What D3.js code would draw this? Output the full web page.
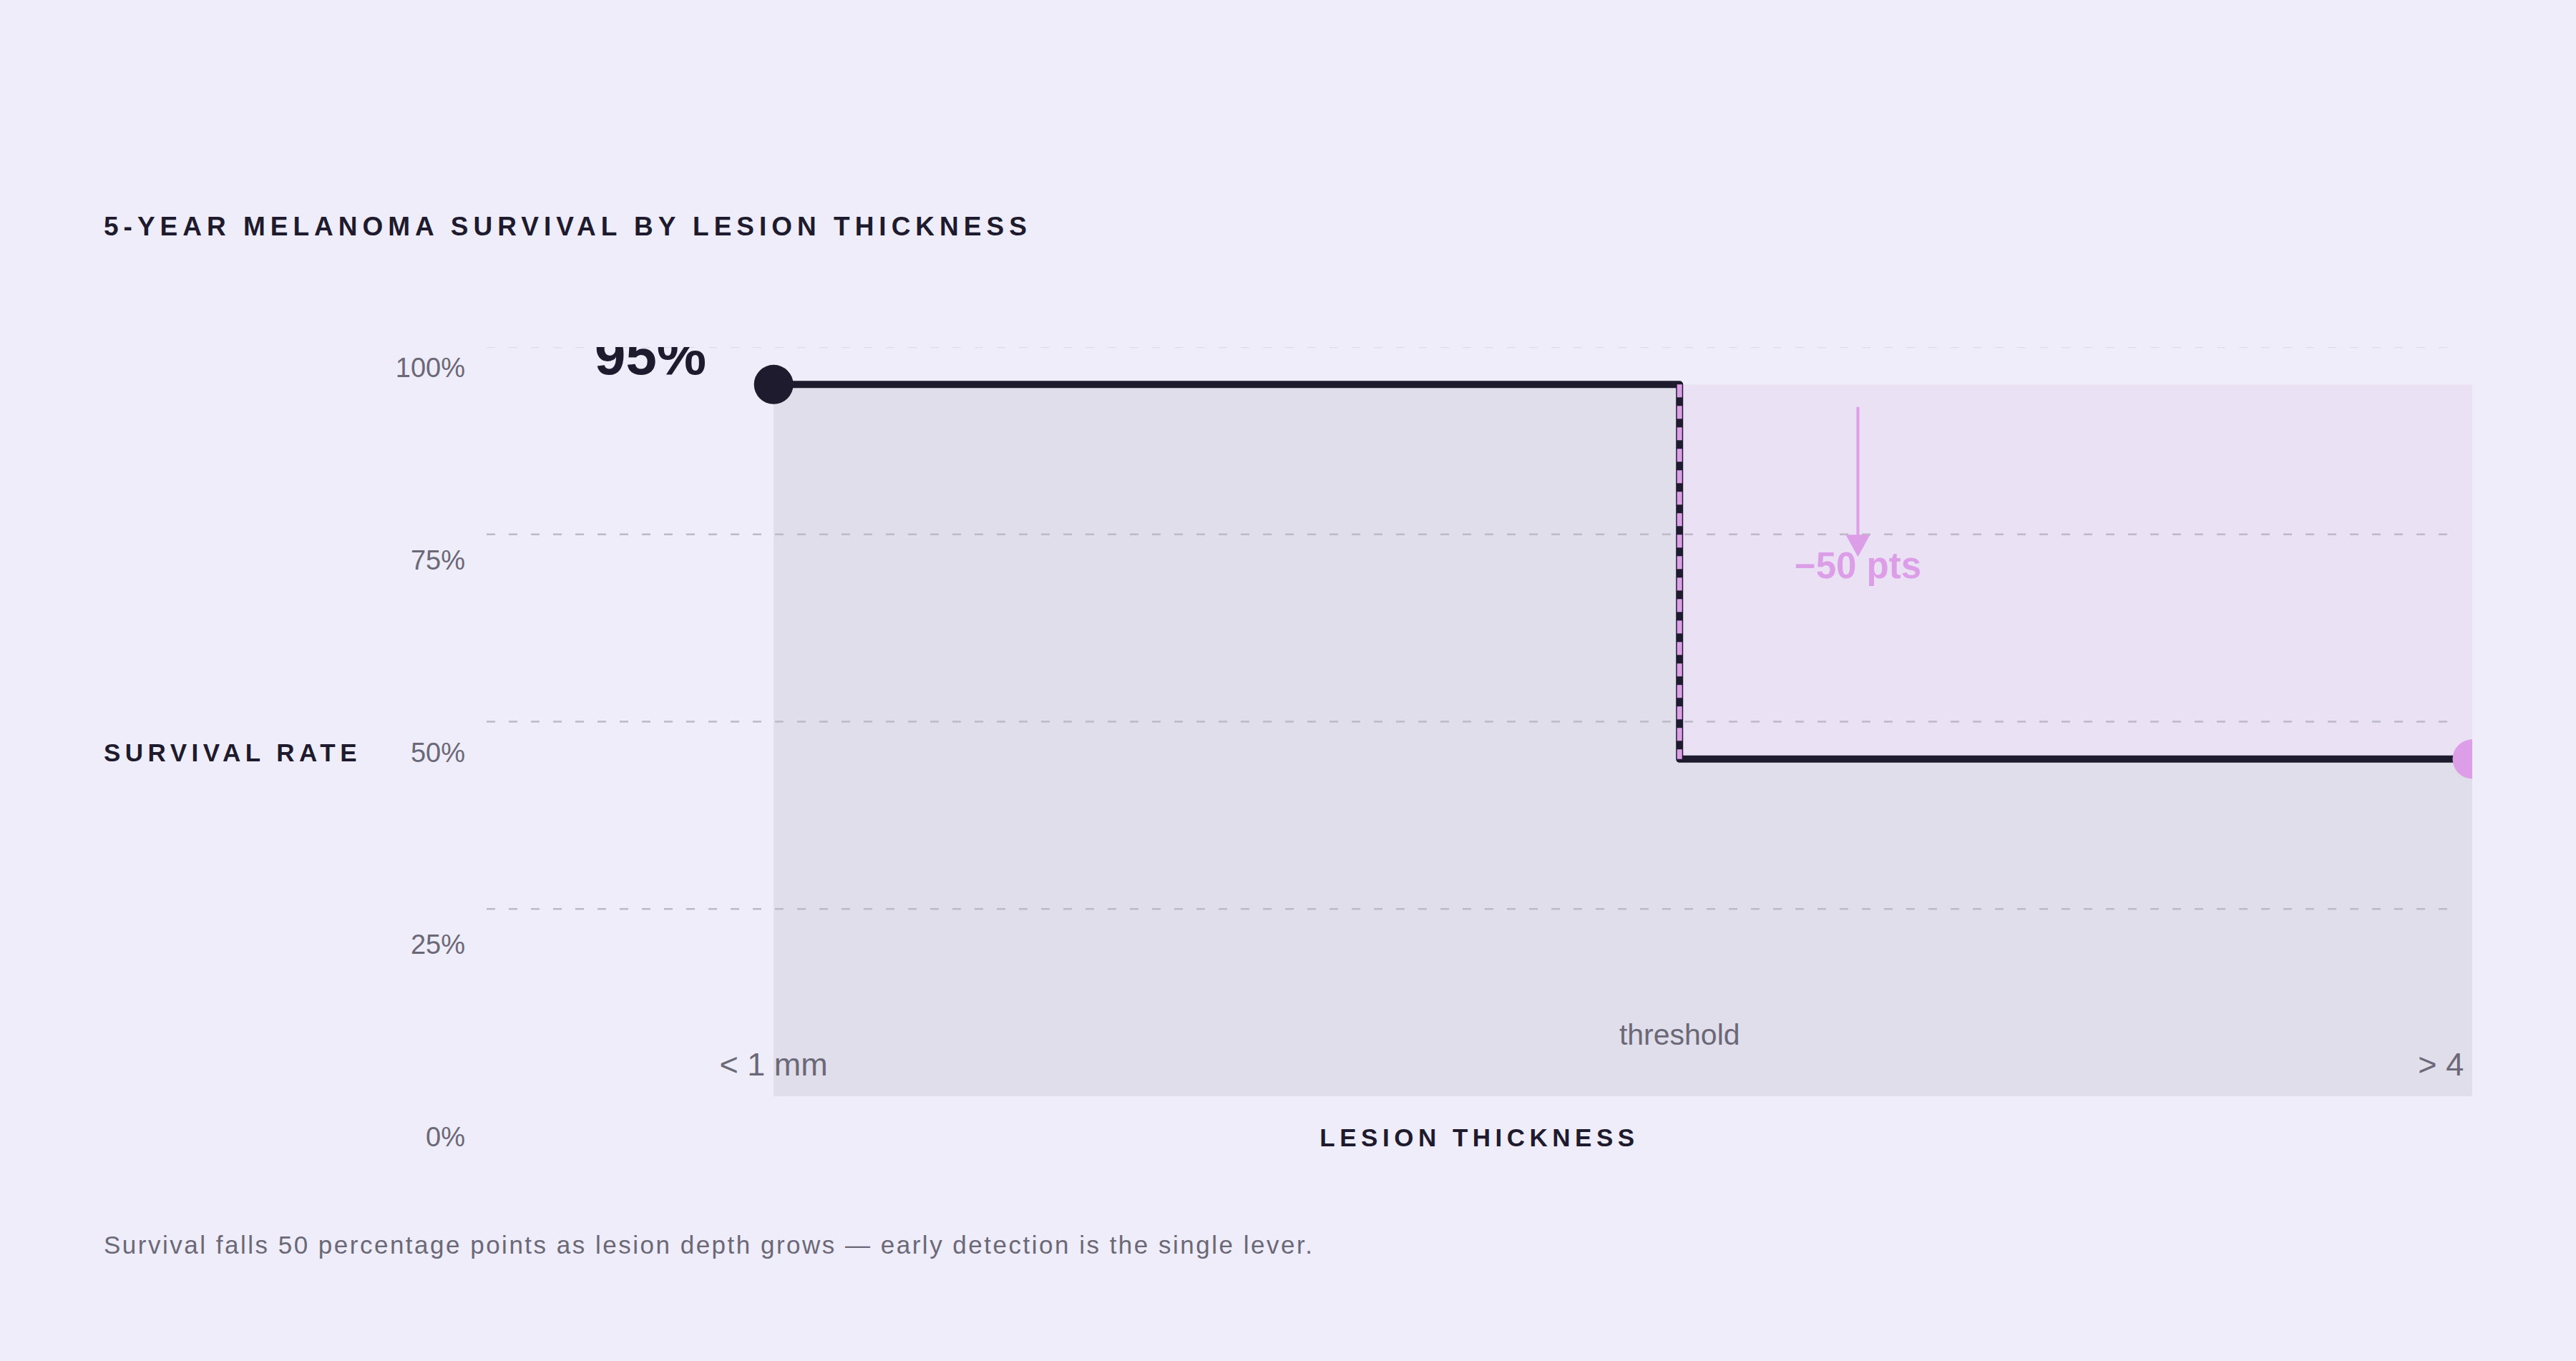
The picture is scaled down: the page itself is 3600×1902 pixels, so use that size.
<!DOCTYPE html>
<html>
<head>
<meta charset="utf-8">
<script src="https://cdn.jsdelivr.net/npm/d3@7"></script>
<style>
  body { margin: 0; background: #efedf9; }
  svg { display: block; font-family: "Liberation Sans", Arial, Helvetica, sans-serif; }
</style>
</head>
<body>
<div id="chart"></div>
<script>
// --- DATA ---
const stopLabels = ["< 1 mm", "> 4 mm"];
const stopMm = [1, 4];
const survival = [95, 45];
const thresholdMm = 2.6;
const yTicks = [0, 25, 50, 75, 100];
const arrowMm = 2.915;
const arrowFrom = 92;
const arrowTo = 72;

// --- LAYOUT ---
const W = 3600, H = 1902;
const plot = { left: 680, right: 3455, top: 485, bottom: 1532 };
const colors = {
  ink: "#1e1b2e",
  muted: "#6b6878",
  accent: "#dc9ee6",
  greyFill: "#e0deea",
  pinkFill: "#ebe1f5",
  grid: "#bdb9c8",
  gridTop: "#e0dcea"
};

const x = d3.scaleLinear().domain([0.493, 4]).range([plot.left, plot.right]);
const y = d3.scaleLinear().domain([0, 100]).range([plot.bottom, plot.top]);
// tick labels sit on their own slightly taller ladder
const yLabel = d3.scaleLinear().domain([0, 100]).range([1602, 527]);

const svg = d3.select("#chart").append("svg").attr("width", W).attr("height", H);
svg.append("rect").attr("width", W).attr("height", H).attr("fill", "#efedf9");

svg.append("defs").append("clipPath").attr("id", "plot-clip")
  .append("rect")
  .attr("x", plot.left).attr("y", plot.top)
  .attr("width", plot.right - plot.left).attr("height", plot.bottom - plot.top + 40);

const g = svg.append("g").attr("clip-path", "url(#plot-clip)");

// step series: first stop, drop at threshold, last stop
const steps = [
  { mm: stopMm[0], v: survival[0] },
  { mm: thresholdMm, v: survival[1] },
  { mm: stopMm[1], v: survival[1] }
];

// area under the curve
g.append("path").datum(steps)
  .attr("fill", colors.greyFill)
  .attr("d", d3.area().curve(d3.curveStepAfter)
    .x(d => x(d.mm)).y0(y(0)).y1(d => y(d.v)));

// lost survival block
g.append("rect")
  .attr("x", x(thresholdMm)).attr("y", y(survival[0]))
  .attr("width", x(stopMm[1]) - x(thresholdMm))
  .attr("height", y(survival[1]) - y(survival[0]))
  .attr("fill", colors.pinkFill);

// gridlines
g.selectAll(".grid").data(yTicks.filter(d => d > 0)).enter().append("line")
  .attr("x1", plot.left).attr("x2", plot.right - 18)
  .attr("y1", d => y(d)).attr("y2", d => y(d))
  .attr("stroke", d => d === 100 ? colors.gridTop : colors.grid)
  .attr("stroke-width", 2.5)
  .attr("stroke-dasharray", "12 19");

// step line
g.append("path").datum(steps)
  .attr("fill", "none").attr("stroke", colors.ink).attr("stroke-width", 10)
  .attr("stroke-linejoin", "round")
  .attr("d", d3.line().curve(d3.curveStepAfter).x(d => x(d.mm)).y(d => y(d.v)));

// threshold drop, dashed accent
g.append("line")
  .attr("x1", x(thresholdMm)).attr("x2", x(thresholdMm))
  .attr("y1", y(survival[0])).attr("y2", y(survival[1]))
  .attr("stroke", colors.accent).attr("stroke-width", 7)
  .attr("stroke-dasharray", "18 12");

// end points
g.selectAll(".dot").data(stopMm).enter().append("circle")
  .attr("cx", d => x(d)).attr("cy", (d, i) => y(survival[i]))
  .attr("r", 27.5)
  .attr("fill", (d, i) => i === 0 ? colors.ink : colors.accent);

// big value label
g.append("text")
  .attr("x", x(stopMm[0]) - 94).attr("y", y(survival[0]) - 14)
  .attr("text-anchor", "end").attr("fill", colors.ink)
  .style("font-size", "78px").style("font-weight", "700")
  .text(survival[0] + "%");

// arrow
g.append("line")
  .attr("x1", x(arrowMm)).attr("x2", x(arrowMm))
  .attr("y1", y(arrowFrom)).attr("y2", y(arrowTo) - 20)
  .attr("stroke", colors.accent).attr("stroke-width", 4);
g.append("path")
  .attr("d", `M${x(arrowMm) - 17},${y(arrowTo) - 31} L${x(arrowMm) + 17},${y(arrowTo) - 31} L${x(arrowMm)},${y(arrowTo)} Z`)
  .attr("fill", colors.accent);
g.append("text")
  .attr("x", x(arrowMm)).attr("y", y(arrowTo) + 30)
  .attr("text-anchor", "middle").attr("fill", colors.accent)
  .style("font-size", "51px").style("font-weight", "700")
  .text("−" + (survival[0] - survival[1]) + " pts");

// x labels inside the plot
g.selectAll(".xlab").data(stopLabels).enter().append("text")
  .attr("x", (d, i) => x(stopMm[i])).attr("y", plot.bottom - 29)
  .attr("text-anchor", "middle").attr("fill", colors.muted)
  .style("font-size", "45px")
  .text(d => d);
g.append("text")
  .attr("x", x(thresholdMm)).attr("y", plot.bottom - 72)
  .attr("text-anchor", "middle").attr("fill", colors.muted)
  .style("font-size", "41px")
  .text("threshold");

// y tick labels
svg.selectAll(".ylab").data(yTicks).enter().append("text")
  .attr("x", 650).attr("y", d => yLabel(d))
  .attr("text-anchor", "end").attr("fill", colors.muted)
  .style("font-size", "38px")
  .text(d => d + "%");

// titles
svg.append("text").attr("x", 145).attr("y", 329)
  .attr("fill", colors.ink).style("font-size", "37px").style("font-weight", "700")
  .style("letter-spacing", "7px")
  .text("5-YEAR MELANOMA SURVIVAL BY LESION THICKNESS");

svg.append("text").attr("x", 145).attr("y", 1064)
  .attr("fill", colors.ink).style("font-size", "35px").style("font-weight", "700")
  .style("letter-spacing", "6.5px")
  .text("SURVIVAL RATE");

svg.append("text").attr("x", (plot.left + plot.right) / 2).attr("y", 1602)
  .attr("text-anchor", "middle")
  .attr("fill", colors.ink).style("font-size", "35px").style("font-weight", "700")
  .style("letter-spacing", "6.5px")
  .text("LESION THICKNESS");

svg.append("text").attr("x", 145).attr("y", 1752)
  .attr("fill", colors.muted).style("font-size", "35px")
  .style("letter-spacing", "2.5px")
  .text("Survival falls 50 percentage points as lesion depth grows — early detection is the single lever.");
</script>
</body>
</html>
